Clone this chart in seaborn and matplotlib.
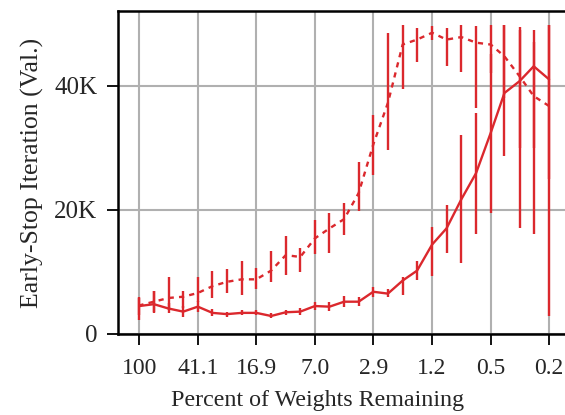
import matplotlib
matplotlib.use("Agg")
import matplotlib.pyplot as plt
import matplotlib.ticker as mticker
import numpy as np
import pandas as pd
import seaborn as sns

# ── Data (iterations in thousands) ──
percent = [100, 80.1, 64.1, 51.3, 41.1, 32.9, 26.4, 21.1, 16.9, 13.5, 10.8,
           8.67, 6.94, 5.56, 4.45, 3.57, 2.86, 2.29, 1.83, 1.47, 1.17, 0.94,
           0.75, 0.60, 0.48, 0.39, 0.31, 0.25, 0.198]

tick_values = [100, 41.1, 16.9, 6.94, 2.86, 1.17, 0.48, 0.198]
tick_labels = ["100", "41.1", "16.9", "7.0", "2.9", "1.2", "0.5", "0.2"]

# winning ticket (solid)
solid_mean = [4.5, 4.8, 4.1, 3.6, 4.4, 3.4, 3.2, 3.4, 3.4, 2.9, 3.5, 3.6, 4.5,
              4.4, 5.2, 5.2, 6.8, 6.5, 8.6, 10.2, 14.4, 17.0, 21.7, 25.9, 32.4,
              38.8, 40.7, 43.1, 41.0]
solid_low = [2.3, 3.3, 3.3, 2.8, 3.5, 2.9, 2.8, 3.0, 3.0, 2.6, 3.1, 3.0, 3.8,
             3.7, 4.4, 4.5, 6.0, 5.9, 6.3, 8.7, 9.4, 13.1, 11.4, 16.1, 19.5,
             28.6, 17.0, 16.1, 2.9]
solid_high = [5.8, 7.0, 5.0, 4.5, 5.3, 4.0, 3.6, 3.9, 3.8, 3.3, 3.9, 4.2, 5.2,
              5.2, 6.1, 6.0, 7.6, 7.2, 9.1, 11.7, 17.3, 20.8, 32.1, 35.6, 45.0,
              49.7, 49.5, 48.9, 49.8]

# random reinit (dashed)
dashed_mean = [4.6, 5.2, 5.8, 6.0, 6.6, 7.7, 8.4, 8.8, 8.8, 10.2, 12.7, 12.4,
               15.4, 17.0, 18.5, 22.7, 30.5, 37.2, 46.6, 47.4, 48.5, 47.4, 47.8,
               46.9, 46.6, 44.7, 41.5, 38.3, 36.7]
dashed_low = [3.0, 3.5, 3.9, 4.2, 5.2, 5.8, 6.6, 6.3, 7.2, 8.4, 9.5, 10.0, 12.9,
              13.1, 16.0, 19.8, 25.6, 29.7, 39.4, 43.8, 47.4, 43.1, 42.1, 36.4,
              42.0, 38.0, 30.0, 30.0, 25.0]
dashed_high = [6.0, 7.0, 9.2, 6.9, 9.2, 10.2, 10.4, 11.7, 10.6, 13.3, 15.8, 13.8,
               18.3, 19.4, 21.1, 27.7, 35.3, 48.5, 49.7, 49.3, 49.6, 49.3, 49.7,
               49.6, 49.8, 49.7, 49.0, 47.0, 49.8]

RED = "#db282d"

df = pd.DataFrame({
    "percent": percent * 2,
    "iters": np.array(solid_mean + dashed_mean) * 1000,
    "kind": ["solid"] * len(percent) + ["dashed"] * len(percent),
})

sns.set_style("white")
plt.rcParams["font.family"] = ["Liberation Serif", "DejaVu Serif"]

fig = plt.figure(figsize=(5.65, 4.15), dpi=100)
ax = fig.add_axes([0.2088, 0.1952, 0.8009, 0.7783])

sns.lineplot(data=df, x="percent", y="iters", style="kind",
             style_order=["solid", "dashed"], dashes={"solid": "", "dashed": (2.2, 2.2)},
             color=RED, linewidth=1.7, legend=False, ax=ax, zorder=3)

# ── error bars ──
for mean, lo, hi in [(solid_mean, solid_low, solid_high),
                     (dashed_mean, dashed_low, dashed_high)]:
    m = np.array(mean) * 1000
    err = [m - np.array(lo) * 1000, np.array(hi) * 1000 - m]
    ax.errorbar(percent, m, yerr=err, fmt="none", ecolor=RED,
                elinewidth=1.7, capsize=0, zorder=3)

ax.set_xscale("log")
ax.set_xlim(138.2, 0.143)
ax.set_ylim(0, 52000)
ax.xaxis.set_major_locator(mticker.FixedLocator(tick_values))
ax.xaxis.set_minor_locator(mticker.NullLocator())
ax.set_xticklabels(tick_labels)
ax.set_yticks([0, 20000, 40000])
ax.set_yticklabels(["0", "20K", "40K"])

ax.grid(True, color="#b0b0b0", linewidth=1.5)
ax.set_axisbelow(True)
for side in ["left", "top", "bottom"]:
    ax.spines[side].set_color("black")
    ax.spines[side].set_linewidth(1.8)
ax.spines["right"].set_visible(False)

ax.tick_params(axis="both", which="major", direction="out", length=8, width=1.3,
               color="black", bottom=True, left=True)
ax.tick_params(axis="x", labelsize=17, pad=9)
ax.tick_params(axis="y", labelsize=18, pad=7)

ax.set_xlabel("Percent of Weights Remaining", fontsize=17.3)
ax.xaxis.set_label_coords(0.442, -0.172)
ax.set_ylabel("Early-Stop Iteration (Val.)", fontsize=18.5, labelpad=7)

fig.savefig("out.png", dpi=100)
